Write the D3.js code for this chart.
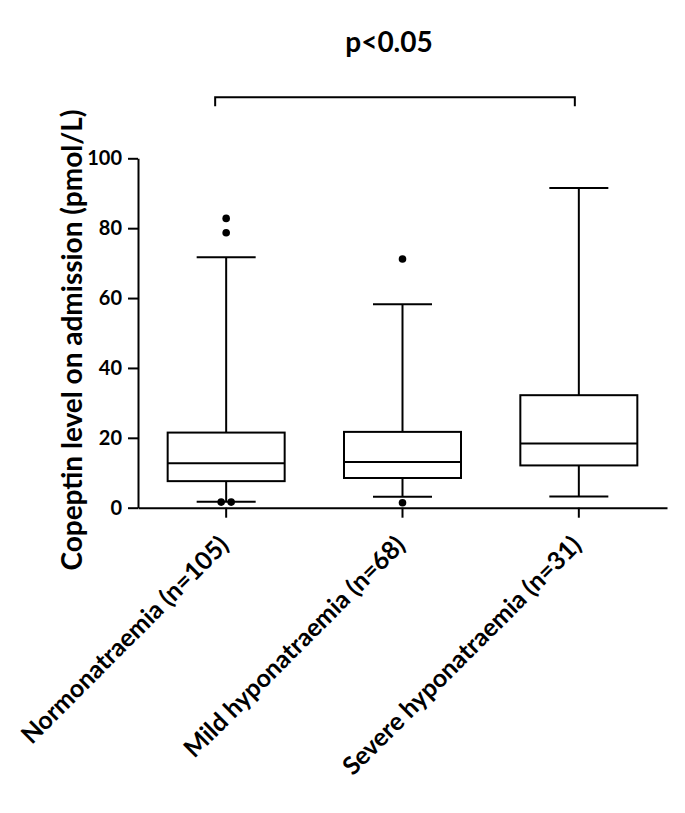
<!DOCTYPE html>
<html>
<head>
<meta charset="utf-8">
<script src="https://cdn.jsdelivr.net/npm/d3@7"></script>
<style>
  body { margin: 0; background: #fff; }
  svg { display: block; }
</style>
</head>
<body>
<div id="chart"></div>
<script>
// Chart values
const categories = ["Normonatraemia (n=105)", "Mild hyponatraemia (n=68)", "Severe hyponatraemia (n=31)"];
const whiskerLow = [1.7, 3.1, 3.2];
const q1 = [7.6, 8.5, 12.1];
const median = [12.7, 13.1, 18.4];
const q3 = [21.5, 21.7, 32.2];
const whiskerHigh = [71.7, 58.2, 91.5];
const outliers = [[82.8, 78.7, 1.6, 1.6], [71.2, 1.4], []];
const yTicks = [0, 20, 40, 60, 80, 100];
const pLabel = "p<0.05";
const yLabel = "Copeptin level on admission (pmol/L)";

const font = "Lato, 'Open Sans', sans-serif";
const totalW = 685, totalH = 813;
const margin = { top: 158.3, right: 18, bottom: 305.3, left: 138 };
const width = totalW - margin.left - margin.right;
const height = totalH - margin.top - margin.bottom;

const svg = d3.select("#chart")
    .append("svg")
        .attr("width", totalW)
        .attr("height", totalH)
    .append("g")
        .attr("transform", "translate(" + margin.left + "," + margin.top + ")");

const x = d3.scaleBand().domain(categories).range([0, width]);
const y = d3.scaleLinear().domain([0, 100]).range([height, 0]);
const cx = c => x(c) + x.bandwidth() / 2;
const boxW = 117, capW = 59;

// y axis
const yAxis = svg.append("g")
    .call(d3.axisLeft(y).tickValues(yTicks).tickSize(10).tickSizeOuter(0).tickPadding(6));
yAxis.select(".domain").attr("stroke-width", 2);
yAxis.selectAll(".tick line").attr("stroke-width", 2);
yAxis.selectAll("text")
    .attr("font-family", font).style("font-size", "20px").style("font-weight", "bold").attr("fill", "#000");

// x axis
const xAxis = svg.append("g")
    .attr("transform", `translate(0,${height})`)
    .call(d3.axisBottom(x).tickSize(10).tickSizeOuter(0));
xAxis.select(".domain").attr("stroke-width", 2);
xAxis.selectAll(".tick line").attr("stroke-width", 2);
xAxis.selectAll("text")
    .attr("font-family", font).style("font-size", "25px").style("font-weight", "bold").attr("fill", "#000")
    .attr("text-anchor", "end")
    .attr("dy", null).attr("y", 0)
    .attr("transform", "translate(4,39) rotate(-45)");

// boxes
categories.forEach((c, i) => {
    const g = svg.append("g").attr("stroke", "#000").attr("stroke-width", 2).attr("fill", "none");
    const m = cx(c);
    // whiskers
    g.append("line").attr("x1", m).attr("x2", m).attr("y1", y(q3[i])).attr("y2", y(whiskerHigh[i]));
    g.append("line").attr("x1", m).attr("x2", m).attr("y1", y(q1[i])).attr("y2", y(whiskerLow[i]));
    g.append("line").attr("x1", m - capW / 2).attr("x2", m + capW / 2).attr("y1", y(whiskerHigh[i])).attr("y2", y(whiskerHigh[i]));
    g.append("line").attr("x1", m - capW / 2).attr("x2", m + capW / 2).attr("y1", y(whiskerLow[i])).attr("y2", y(whiskerLow[i]));
    // box
    g.append("rect").attr("x", m - boxW / 2).attr("width", boxW)
        .attr("y", y(q3[i])).attr("height", y(q1[i]) - y(q3[i])).attr("fill", "#fff");
    g.append("line").attr("x1", m - boxW / 2).attr("x2", m + boxW / 2).attr("y1", y(median[i])).attr("y2", y(median[i]));

    // outliers; points with nearly equal values are placed side by side
    const pts = outliers[i];
    pts.forEach((v, j) => {
        const same = pts.filter(w => Math.abs(w - v) < 1);
        const k = pts.slice(0, j).filter(w => Math.abs(w - v) < 1).length;
        const off = same.length > 1 ? (k - (same.length - 1) / 2) * 10 : 0;
        svg.append("circle").attr("cx", m + off).attr("cy", y(v)).attr("r", 3.8).attr("fill", "#000");
    });
});

// significance bracket
const bx1 = cx(categories[0]) - 11, bx2 = cx(categories[2]) - 4, by = -61;
svg.append("path")
    .attr("d", `M${bx1},${by + 9}V${by}H${bx2}V${by + 9}`)
    .attr("fill", "none").attr("stroke", "#000").attr("stroke-width", 2);
svg.append("text")
    .attr("font-family", font).style("font-size", "28px").style("font-weight", "bold")
    .attr("text-anchor", "middle")
    .attr("x", (bx1 + bx2) / 2 - 6).attr("y", -106)
    .text(pLabel);

// y label
svg.append("text")
    .attr("font-family", font).style("font-size", "28px").style("font-weight", "bold")
    .attr("text-anchor", "middle")
    .attr("transform", `translate(${82 - margin.left},${340 - margin.top}) rotate(-90)`)
    .text(yLabel);
</script>
</body>
</html>
